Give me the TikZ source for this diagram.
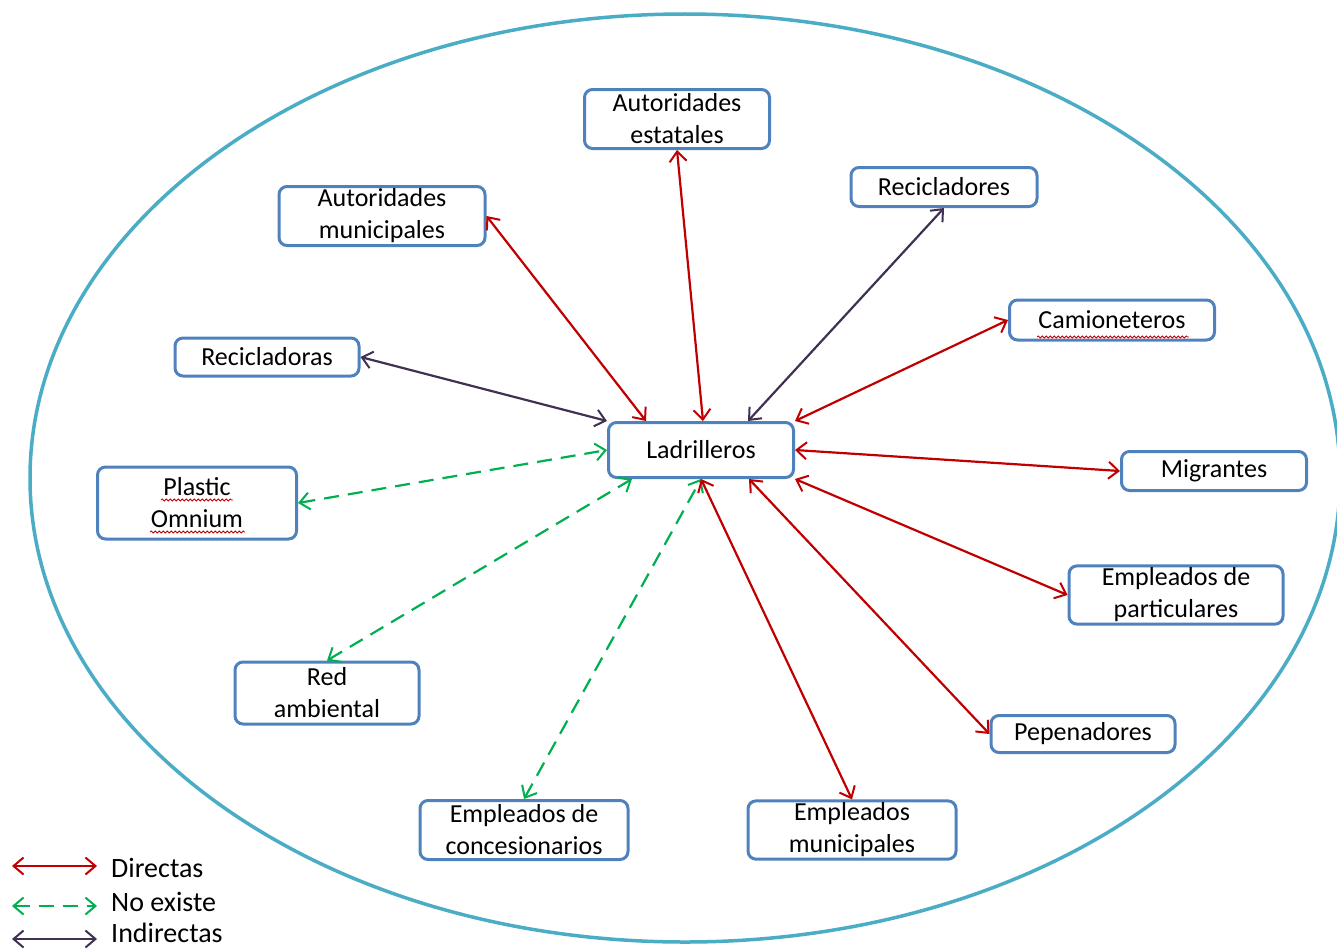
\documentclass[tikz,border=0pt]{standalone}
\usepackage{fontspec}
\setmainfont{Carlito}
\usetikzlibrary{arrows.meta,decorations.pathmorphing}
\definecolor{boxblue}{HTML}{4F81BD}
\definecolor{ringblue}{HTML}{4BACC6}
\definecolor{dred}{HTML}{C00000}
\definecolor{ngreen}{HTML}{00B050}
\definecolor{ipurple}{HTML}{403152}
\tikzset{
  actor/.style={rectangle,rounded corners=8pt,draw=boxblue,line width=3pt,fill=white,align=center,inner sep=2pt,font=\fontsize{26}{32}\selectfont},
  rel/.style={line width=2.2pt,{Straight Barb[length=10pt,width=17pt,line width=2pt]}-{Straight Barb[length=10pt,width=17pt,line width=2pt]}},
  directa/.style={rel,dred},
  noexiste/.style={rel,ngreen,dash pattern=on 15pt off 9pt},
  indirecta/.style={rel,ipurple},
  legtext/.style={anchor=west,inner sep=0pt,font=\fontsize{28}{32}\selectfont},
  spell/.style={dred,line width=0.8pt,decorate,decoration={snake,amplitude=1pt,segment length=4pt}}
}

\begin{document}
\begin{tikzpicture}[x=1pt,y=-1pt]
  \useasboundingbox (0,0) rectangle (1337,950);
  \draw[ringblue,line width=3.5pt] (685,478) ellipse [x radius=655,y radius=464];

  \node[actor,minimum width=185pt,minimum height=55pt] (lad) at (701,450) {Ladrilleros};
  \node[actor,minimum width=185pt,minimum height=59pt] (ae) at (677,119) {Autoridades\\estatales};
  \node[actor,minimum width=186pt,minimum height=39pt] (rc) at (944,187) {Recicladores};
  \node[actor,minimum width=206pt,minimum height=59pt] (am) at (382,216) {Autoridades\\municipales};
  \node[actor,minimum width=205pt,minimum height=40pt] (cam) at (1112,320) {Camioneteros};
  \node[actor,minimum width=184pt,minimum height=38pt] (ras) at (267,357) {Recicladoras};
  \node[actor,minimum width=185pt,minimum height=39pt] (mig) at (1214,471) {Migrantes};
  \node[actor,minimum width=199pt,minimum height=72pt] (po) at (197,503) {Plastic\\Omnium};
  \node[actor,minimum width=214pt,minimum height=57pt] (ep) at (1176,595) {Empleados de\\particulares};
  \node[actor,minimum width=184pt,minimum height=62pt] (ra) at (327,693) {Red\\ambiental};
  \node[actor,minimum width=184pt,minimum height=37pt] (pep) at (1083,734) {Pepenadores};
  \node[actor,minimum width=208pt,minimum height=59pt] (ec) at (524,830) {Empleados de\\concesionarios};
  \node[actor,minimum width=208pt,minimum height=56pt] (em) at (852,830) {Empleados\\municipales};

  % spell-check marks
  \draw[spell] (1037,337) -- (1189,337);
  \draw[spell] (161,500) -- (233,500);
  \draw[spell] (150,532) -- (245,532);

  \draw[directa] (am.east) -- ([xshift=39pt]lad.north west);
  \draw[directa] (ae.south) -- ([xshift=2pt]lad.north);
  \draw[indirecta] (rc.south) -- ([xshift=47pt]lad.north);
  \draw[directa] (cam.west) -- (lad.north east);
  \draw[indirecta] (ras.east) -- (lad.north west);
  \draw[directa] (lad.east) -- (mig.west);
  \draw[noexiste] (po.east) -- (lad.west);
  \draw[directa] (lad.south east) -- (ep.west);
  \draw[noexiste] (ra.north) -- ([xshift=25pt]lad.south west);
  \draw[directa] ([xshift=48pt]lad.south) -- (pep.west);
  \draw[noexiste] (ec.north) -- (lad.south);
  \draw[directa] (lad.south) -- (em.north);

  % legend
  \node[legtext] (ldir) at (111,868) {Directas};
  \node[legtext] (lno) at (111,902) {No existe};
  \node[legtext] (lind) at (111,933) {Indirectas};
  \coordinate (k1) at (12,866);
  \coordinate (k2) at (12,906);
  \coordinate (k3) at (12,939);
  \draw[directa] (k1) -- ([xshift=-14pt]k1 -| ldir.west);
  \draw[noexiste] (k2) -- ([xshift=-14pt]k2 -| lno.west);
  \draw[indirecta] (k3) -- ([xshift=-14pt]k3 -| lind.west);
\end{tikzpicture}
\end{document}
